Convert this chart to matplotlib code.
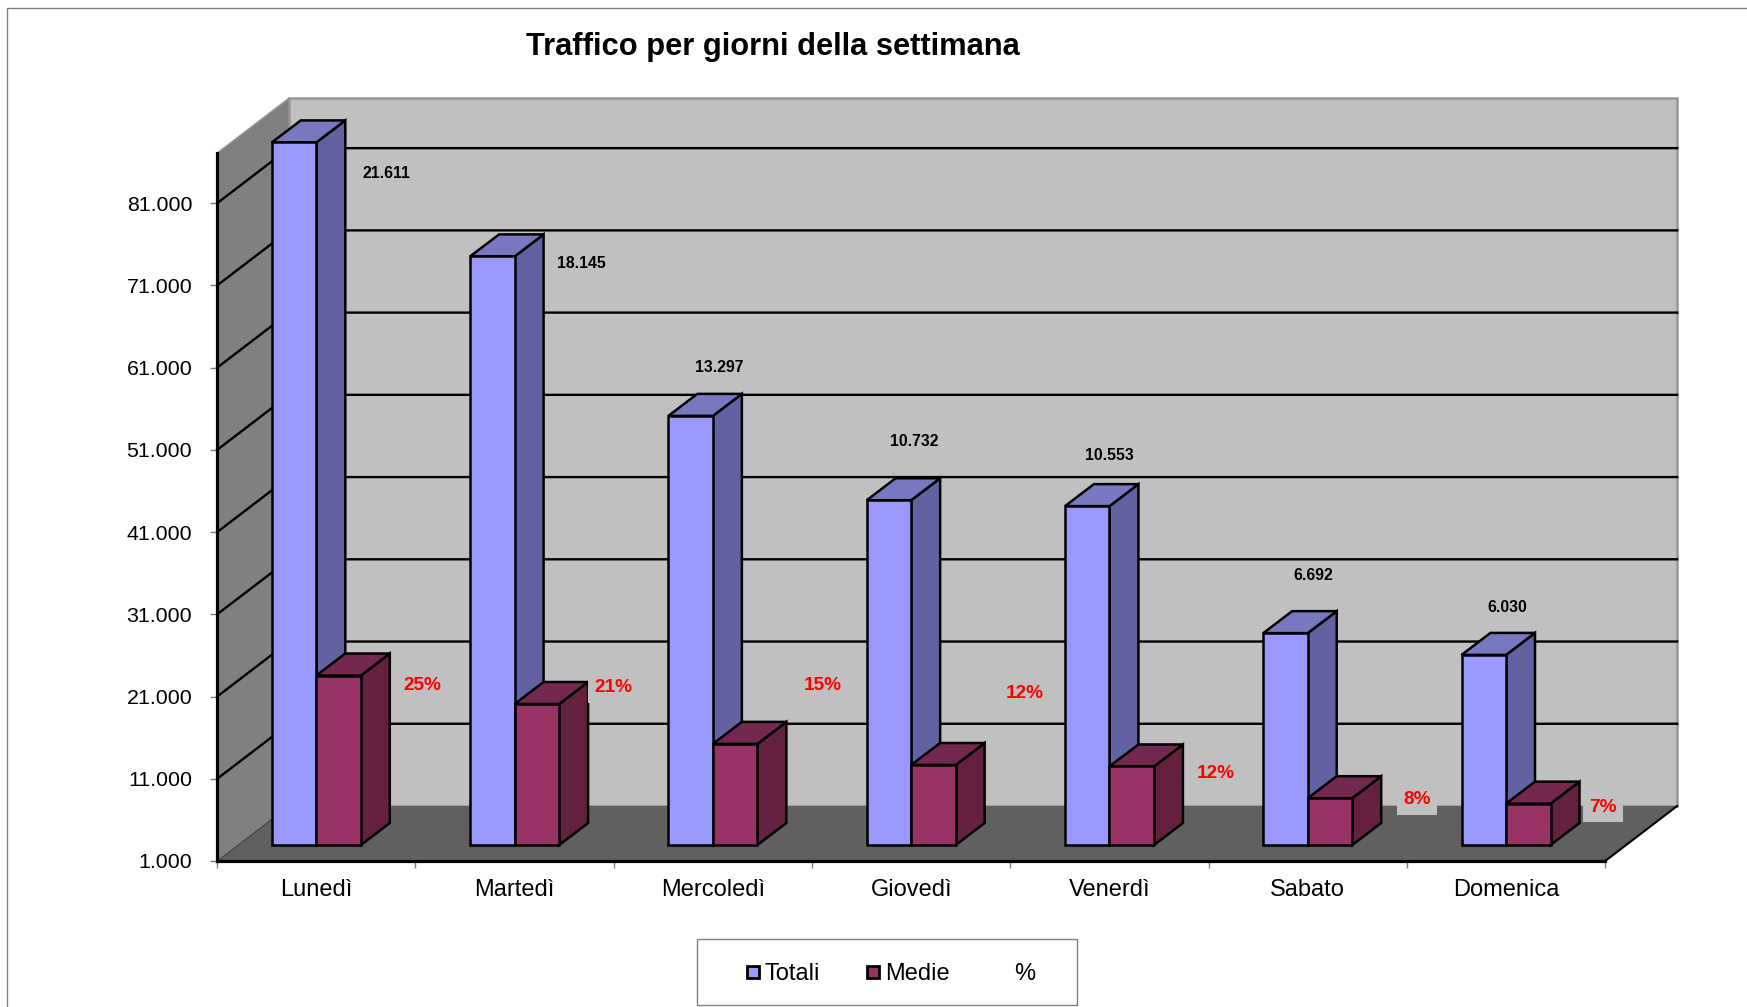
import matplotlib
matplotlib.use("Agg")
import matplotlib.pyplot as plt
from matplotlib.lines import Line2D
from matplotlib.patches import Polygon, Rectangle

plt.rcParams["font.family"] = ["Liberation Sans", "DejaVu Sans"]

W, H = 1747, 1007

giorni = ["Lunedì", "Martedì", "Mercoledì", "Giovedì", "Venerdì", "Sabato", "Domenica"]
totali = [86444, 72580, 53188, 42928, 42212, 26768, 24120]
medie = [21611, 18145, 13297, 10732, 10553, 6692, 6030]
medie_labels = ["21.611", "18.145", "13.297", "10.732", "10.553", "6.692", "6.030"]
perc_labels = ["25%", "21%", "15%", "12%", "12%", "8%", "7%"]
y_ticks = [1000, 11000, 21000, 31000, 41000, 51000, 61000, 71000, 81000]
y_labels = ["1.000", "11.000", "21.000", "31.000", "41.000", "51.000", "61.000", "71.000", "81.000"]

# where the labels were dragged to in the chart, pixels of the full image
medie_pos = [(386, 174), (581, 264), (719, 367), (914, 442), (1109, 456), (1313, 576), (1507, 607)]
perc_pos = [(422, 686), (613, 688), (823, 686), (1025, 694), (1216, 773), (1417, 800), (1603, 807)]

YMIN, YMAX = 1000, 87100
# 3d look, in data units
WALL_DX, WALL_DY = 0.363, 6690
BAR_DX, BAR_DY = 0.146, 2675
BAR_BASE = 1945
BAR_W = 0.2244


def px(x, y):
    return x / W, 1 - y / H


def draw_bar(ax, x0, value, front, side, top):
    x1 = x0 + BAR_W
    y0 = YMIN + BAR_BASE
    y1 = value + BAR_BASE
    faces = [
        ([(x1, y0), (x1 + BAR_DX, y0 + BAR_DY), (x1 + BAR_DX, y1 + BAR_DY), (x1, y1)], side),
        ([(x0, y1), (x1, y1), (x1 + BAR_DX, y1 + BAR_DY), (x0 + BAR_DX, y1 + BAR_DY)], top),
        ([(x0, y0), (x1, y0), (x1, y1), (x0, y1)], front),
    ]
    for coords, color in faces:
        ax.add_patch(Polygon(coords, closed=True, facecolor=color, edgecolor="black",
                             linewidth=1.8, joinstyle="miter", clip_on=False, zorder=4))


fig = plt.figure(figsize=(W / 100, H / 100), dpi=100, facecolor="white")
ax = fig.add_axes([217.2 / W, 1 - 861 / H, 1388 / W, 708 / H])
ax.patch.set_visible(False)
ax.set_xlim(-0.5, 6.5)
ax.set_ylim(YMIN, YMAX)

# walls and floor
xl, xr = -0.5, 6.5
ax.add_patch(Polygon([(xl + WALL_DX, YMIN + WALL_DY), (xr + WALL_DX, YMIN + WALL_DY),
                      (xr + WALL_DX, YMAX + WALL_DY), (xl + WALL_DX, YMAX + WALL_DY)],
                     facecolor="#c0c0c0", edgecolor="#979797", linewidth=1.8, clip_on=False, zorder=1))
ax.add_patch(Polygon([(xl, YMIN), (xl + WALL_DX, YMIN + WALL_DY),
                      (xl + WALL_DX, YMAX + WALL_DY), (xl, YMAX)],
                     facecolor="#808080", edgecolor="#979797", linewidth=1.0, clip_on=False, zorder=1))
ax.add_patch(Polygon([(xl, YMIN), (xr, YMIN), (xr + WALL_DX, YMIN + WALL_DY), (xl + WALL_DX, YMIN + WALL_DY)],
                     facecolor="#606060", edgecolor="none", clip_on=False, zorder=2))
ax.plot([xr, xr + WALL_DX], [YMIN, YMIN + WALL_DY], color="black", lw=1.5, clip_on=False, zorder=2.5)
ax.plot([xl, xl + WALL_DX], [YMIN, YMIN + WALL_DY], color="#404040", lw=0.8, clip_on=False, zorder=2.5)

for t in y_ticks[1:]:
    ax.plot([xl, xl + WALL_DX, xr + WALL_DX], [t, t + WALL_DY, t + WALL_DY],
            color="black", lw=1.7, clip_on=False, zorder=3)

for i in range(len(giorni)):
    draw_bar(ax, i - BAR_W, totali[i], "#9999ff", "#6262a3", "#7878c0")
    draw_bar(ax, i, medie[i], "#993366", "#63203f", "#74274f")

ax.set_xticks([i - 0.5 for i in range(len(giorni) + 1)])
ax.set_xticklabels([])
ax.set_xticks(range(len(giorni)), minor=True)
ax.set_xticklabels(giorni, minor=True, fontsize=17)
ax.tick_params(axis="x", which="major", length=5, width=1, color="#808080")
ax.tick_params(axis="x", which="minor", length=0, pad=13)
ax.set_yticks(y_ticks)
ax.set_yticklabels(y_labels, fontsize=15.4)
ax.tick_params(axis="y", length=5, width=1, color="#808080", pad=13)

for s in ["top", "right"]:
    ax.spines[s].set_visible(False)
for s in ["left", "bottom"]:
    ax.spines[s].set_linewidth(2.3)
    ax.spines[s].set_zorder(6)

for (x, y), lab in zip(medie_pos, medie_labels):
    fig.text(*px(x, y), lab, ha="center", va="center", fontsize=11.3, fontweight="bold", color="black", zorder=5)
for (x, y), lab in zip(perc_pos, perc_labels):
    fig.text(*px(x, y), lab, ha="center", va="center", fontsize=13.7, fontweight="bold", color="#ff0000", zorder=5,
             bbox=dict(boxstyle="square,pad=0.34", facecolor="#c0c0c0", edgecolor="none"))

fig.text(*px(773, 47), "Traffico per giorni della settimana", ha="center", va="center",
         fontsize=22.2, fontweight="bold")

# chart area border, only top and left show
fig.add_artist(Line2D([7 / W, 7 / W, 1], [0, 1 - 8 / H, 1 - 8 / H], color="#808080", lw=1.0))

# legend
fig.add_artist(Rectangle(px(697, 1005), 380 / W, 66 / H, transform=fig.transFigure,
                         facecolor="white", edgecolor="#808080", linewidth=1.0))
handles = [
    Line2D([], [], linestyle="none", marker="s", markersize=8.5, markerfacecolor="#9999ff",
           markeredgecolor="black", markeredgewidth=2.0),
    Line2D([], [], linestyle="none", marker="s", markersize=8.5, markerfacecolor="#993366",
           markeredgecolor="black", markeredgewidth=2.0),
    Line2D([], [], linestyle="none"),
]
fig.legend(handles, ["Totali", "Medie", "%"], ncols=3, frameon=False, fontsize=17,
           loc="center", bbox_to_anchor=px(891, 974), handlelength=0.55, handletextpad=0.2,
           columnspacing=2.0, borderpad=0)

fig.savefig("out.png", dpi=100)
